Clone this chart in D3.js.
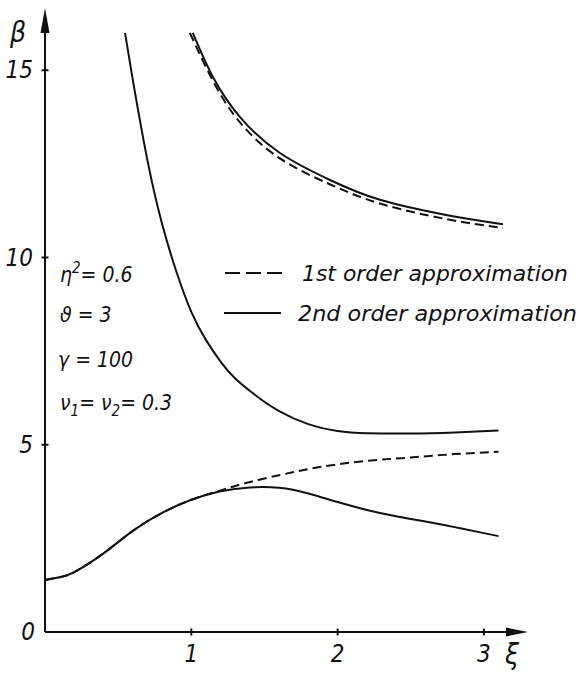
<!DOCTYPE html>
<html>
<head>
<meta charset="utf-8">
<script src="https://cdn.jsdelivr.net/npm/d3@7"></script>
<style>
  html, body { margin: 0; padding: 0; background: #fff; }
  svg { display: block; }
  text { font-family: "DejaVu Sans", sans-serif; font-stretch: condensed; font-style: italic; fill: #111; }
</style>
</head>
<body>
<div id="chart"></div>
<script>
// Stability parameter beta versus xi, 1st and 2nd order approximations
const xTicks = [1, 2, 3];
const yTicks = [0, 5, 10, 15];

// lower branch, 2nd order (solid)
const lowXi2   = [0, 0.1, 0.2, 0.4, 0.6, 0.8, 1.0, 1.2, 1.4, 1.6, 1.8, 2.0, 2.2, 2.4, 2.6, 2.8, 3.0, 3.1];
const lowBeta2 = [1.39, 1.46, 1.60, 2.10, 2.70, 3.18, 3.53, 3.76, 3.86, 3.85, 3.70, 3.47, 3.26, 3.09, 2.95, 2.80, 2.64, 2.56];

// lower branch, 1st order (dashed)
const lowXi1   = [0, 0.1, 0.2, 0.4, 0.6, 0.8, 1.0, 1.2, 1.3, 1.5, 1.7, 1.9, 2.2, 2.5, 2.8, 3.1];
const lowBeta1 = [1.39, 1.46, 1.60, 2.10, 2.70, 3.18, 3.53, 3.78, 3.90, 4.10, 4.27, 4.42, 4.57, 4.66, 4.75, 4.81];

// middle branch, 2nd order (solid)
const midXi2   = [0.547, 0.6, 0.7, 0.8, 0.9, 1.0, 1.1, 1.2, 1.3, 1.45, 1.6, 1.8, 2.0, 2.2, 2.5, 2.8, 3.1];
const midBeta2 = [16.0, 14.75, 12.6, 10.9, 9.6, 8.55, 7.8, 7.22, 6.77, 6.29, 5.90, 5.55, 5.37, 5.31, 5.30, 5.33, 5.38];

// upper branch, 2nd order (solid)
const upXi2   = [1.01, 1.148, 1.333, 1.606, 1.948, 2.29, 2.75, 3.13];
const upBeta2 = [16.0, 14.82, 13.75, 12.79, 12.07, 11.54, 11.13, 10.89];

// upper branch, 1st order (dashed)
const upXi1   = [0.99, 1.15, 1.33, 1.6, 1.95, 2.3, 2.75, 3.13];
const upBeta1 = [16.0, 14.7, 13.62, 12.66, 11.95, 11.43, 11.02, 10.79];

const legendLabels = ["1st order approximation", "2nd order approximation"];

const W = 579, H = 674;
const svg = d3.select("#chart").append("svg").attr("width", W).attr("height", H);

const x = d3.scaleLinear().domain([0, 1]).range([45, 191.3]);
const y = d3.scaleLinear().domain([0, 5]).range([632, 444.75]);

const ink = "#111";

// axes
svg.append("line").attr("x1", x(0)).attr("y1", y(0)).attr("x2", 512).attr("y2", y(0))
  .attr("stroke", ink).attr("stroke-width", 2);
svg.append("line").attr("x1", x(0)).attr("y1", y(0)).attr("x2", x(0)).attr("y2", 28)
  .attr("stroke", ink).attr("stroke-width", 2);
// arrow heads
svg.append("path").attr("d", `M528,${y(0)} L506,${y(0) - 4.5} L506,${y(0) + 4.5} Z`).attr("fill", ink);
svg.append("path").attr("d", `M${x(0)},8 L${x(0) - 4.5},33 L${x(0) + 4.5},33 Z`).attr("fill", ink);

// ticks
svg.selectAll(".xt").data(xTicks).enter().append("line")
  .attr("x1", d => x(d)).attr("x2", d => x(d))
  .attr("y1", y(0) - 3.5).attr("y2", y(0) + 3.5)
  .attr("stroke", ink).attr("stroke-width", 2);
svg.selectAll(".yt").data(yTicks.filter(d => d > 0)).enter().append("line")
  .attr("x1", x(0) - 3.5).attr("x2", x(0) + 3.5)
  .attr("y1", d => y(d)).attr("y2", d => y(d))
  .attr("stroke", ink).attr("stroke-width", 2);

// tick labels
svg.selectAll(".xl").data(xTicks).enter().append("text")
  .attr("x", d => x(d)).attr("y", 662).attr("text-anchor", "middle")
  .attr("font-size", 24).text(d => d);
svg.selectAll(".yl").data(yTicks).enter().append("text")
  .attr("x", d => d === 0 ? 35 : 33).attr("y", d => y(d) + 8).attr("text-anchor", "end")
  .attr("font-size", 24).text(d => d);

// axis titles
svg.append("text").attr("x", 10).attr("y", 42).attr("font-size", 28).text("β");
svg.append("text").attr("x", 505).attr("y", 664).attr("font-size", 28).text("ξ");

// curves: smooth natural splines through the sampled values
const line = d3.line().x(d => x(d[0])).y(d => y(d[1])).curve(d3.curveNatural);
const zip = (a, b) => a.map((v, i) => [v, b[i]]);

const dashed = [zip(lowXi1, lowBeta1), zip(upXi1, upBeta1)];
const solid = [zip(lowXi2, lowBeta2), zip(midXi2, midBeta2), zip(upXi2, upBeta2)];

svg.selectAll(".d").data(dashed).enter().append("path")
  .attr("d", line).attr("fill", "none").attr("stroke", ink)
  .attr("stroke-width", 2).attr("stroke-dasharray", "9,5");
svg.selectAll(".s").data(solid).enter().append("path")
  .attr("d", line).attr("fill", "none").attr("stroke", ink)
  .attr("stroke-width", 2);

// legend
const legendY = [273, 313];
svg.append("line").attr("x1", 225).attr("x2", 282).attr("y1", legendY[0]).attr("y2", legendY[0])
  .attr("stroke", ink).attr("stroke-width", 2).attr("stroke-dasharray", "15,6");
svg.append("line").attr("x1", 224).attr("x2", 281).attr("y1", legendY[1]).attr("y2", legendY[1])
  .attr("stroke", ink).attr("stroke-width", 2);
svg.append("text").attr("x", 302).attr("y", legendY[0] + 8).attr("font-size", 21)
  .attr("textLength", 266).attr("lengthAdjust", "spacingAndGlyphs").text(legendLabels[0]);
svg.append("text").attr("x", 298).attr("y", legendY[1] + 8).attr("font-size", 21)
  .attr("textLength", 279).attr("lengthAdjust", "spacingAndGlyphs").text(legendLabels[1]);

// parameter block
const p = svg.append("g").attr("font-size", 21);
const t1 = p.append("text").attr("x", 60).attr("y", 282);
t1.append("tspan").text("η");
t1.append("tspan").attr("dy", -9).attr("font-size", 15).text("2");
t1.append("tspan").attr("dy", 9).text("= 0.6");
p.append("text").attr("x", 60).attr("y", 322).text("ϑ = 3");
p.append("text").attr("x", 58).attr("y", 367).text("γ = 100");
const t4 = p.append("text").attr("x", 60).attr("y", 410);
t4.append("tspan").text("ν");
t4.append("tspan").attr("dy", 6).attr("font-size", 15).text("1");
t4.append("tspan").attr("dy", -6).text("= ν");
t4.append("tspan").attr("dy", 6).attr("font-size", 15).text("2");
t4.append("tspan").attr("dy", -6).text("= 0.3");
</script>
</body>
</html>
